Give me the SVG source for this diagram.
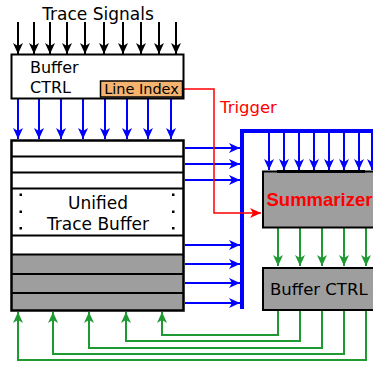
<svg xmlns="http://www.w3.org/2000/svg" width="373" height="365" viewBox="0 0 373 365">
<style>
text{font-family:"DejaVu Sans","Liberation Sans",sans-serif}
.blk{stroke:#000;stroke-width:2;fill:none}
.blu{stroke:#0000ff;stroke-width:2;fill:none}
.grn{stroke:#1f9a33;stroke-width:2;fill:none}
.red{stroke:#ff0000;stroke-width:1.5;fill:none}
.box{stroke:#000;stroke-width:2}
</style>
<defs>
<marker id="ak" markerUnits="userSpaceOnUse" markerWidth="14" markerHeight="14" viewBox="-12 -6 14 12" refX="0" refY="0" orient="auto"><path d="M0,0 L-11,-5 L-8,0 L-11,5 Z" fill="#000"/></marker>
<marker id="ab" markerUnits="userSpaceOnUse" markerWidth="14" markerHeight="14" viewBox="-12 -6 14 12" refX="0" refY="0" orient="auto"><path d="M0,0 L-11,-5 L-8,0 L-11,5 Z" fill="#0000ff"/></marker>
<marker id="ag" markerUnits="userSpaceOnUse" markerWidth="14" markerHeight="14" viewBox="-12 -6 14 12" refX="0" refY="0" orient="auto"><path d="M0,0 L-11,-5 L-8,0 L-11,5 Z" fill="#1f9a33"/></marker>
<marker id="ar" markerUnits="userSpaceOnUse" markerWidth="14" markerHeight="14" viewBox="-12 -6 14 12" refX="0" refY="0" orient="auto"><path d="M0,0 L-11,-5 L-8,0 L-11,5 Z" fill="#ff0000"/></marker>
</defs>
<rect width="373" height="365" fill="#fff"/>
<text x="98" y="20" font-size="17" text-anchor="middle">Trace Signals</text>
<g id="connectors">
<g class="blk" marker-end="url(#ak)">
<path d="M18,22V54"/><path d="M34,22V54"/><path d="M50,22V54"/><path d="M67,22V54"/><path d="M85,22V54"/><path d="M104,22V54"/><path d="M123,22V54"/><path d="M141,22V54"/><path d="M159,22V54"/><path d="M176,22V54"/>
</g>
<g class="blu" marker-end="url(#ab)">
<path d="M18,99V139"/><path d="M39,99V139"/><path d="M61,99V139"/><path d="M83,99V139"/><path d="M105,99V139"/><path d="M127,99V139"/><path d="M148,99V139"/><path d="M171,99V139"/>
<path d="M185,148H240"/><path d="M185,164H240"/><path d="M185,180H240"/>
<path d="M185,245H240"/><path d="M185,264H240"/><path d="M185,283H240"/><path d="M185,303H240"/>
<path d="M269,133V170"/><path d="M284,133V170"/><path d="M299,133V170"/><path d="M314,133V170"/><path d="M329,133V170"/><path d="M344,133V170"/><path d="M359,133V170"/><path d="M372,133V170"/>
</g>
<path d="M242,309V131H373" fill="none" stroke="#0000ff" stroke-width="4"/>
<path class="red" d="M183,89H214V213H261" marker-end="url(#ar)"/>
<text x="220" y="113" font-size="16.5" fill="#ff0000">Trigger</text>
<g class="grn" marker-end="url(#ag)">
<path d="M278,228V266"/><path d="M300,228V266"/><path d="M322,228V266"/><path d="M344,228V266"/><path d="M366,228V266"/>
<path d="M278,311V335H162V312"/>
<path d="M300,311V341H126V312"/>
<path d="M322,311V348H89V312"/>
<path d="M344,311V354H53V312"/>
<path d="M366,311V360H18V312"/>
</g>
</g>
<g id="buffer-ctrl-top">
<rect x="11.5" y="54.5" width="172" height="44" fill="#fff" class="box"/>
<text x="30" y="73" font-size="16">Buffer</text>
<text x="30" y="93" font-size="16">CTRL</text>
</g>
<g id="line-index">
<rect x="100.5" y="81" width="82" height="16" fill="#f5b370" stroke="#000" stroke-width="1.5"/>
<text x="141.5" y="94" font-size="14.5" text-anchor="middle">Line Index</text>
</g>
<g id="unified-trace-buffer">
<rect x="11.5" y="140.5" width="172" height="170" fill="#fff"/>
<rect x="11.5" y="254.5" width="172" height="56" fill="#9e9e9e"/>
<g class="blk">
<path d="M11,156.5H184M11,172.5H184M11,188.5H184M11,235.5H184M11,254.5H184M11,274H184M11,293H184"/>
</g>
<rect x="11.5" y="140.5" width="172" height="170" fill="none" stroke="#000" stroke-width="2.5"/>
<g fill="#000">
<rect x="19.5" y="193.5" width="2.5" height="2.5"/><rect x="19.5" y="210.5" width="2.5" height="2.5"/><rect x="19.5" y="227" width="2.5" height="2.5"/>
<rect x="172" y="193.5" width="2.5" height="2.5"/><rect x="172" y="210.5" width="2.5" height="2.5"/><rect x="172" y="227" width="2.5" height="2.5"/>
</g>
<text x="98" y="209" font-size="17" text-anchor="middle">Unified</text>
<text x="98" y="230" font-size="17" text-anchor="middle">Trace Buffer</text>
</g>
<g id="summarizer">
<rect x="263" y="171.5" width="115" height="56" fill="#9e9e9e" class="box"/>
<path d="M277,171.5H365" stroke="#000" stroke-width="3"/>
<text x="266.5" y="206" font-size="18.5" font-weight="bold" fill="#ff0000" style="font-family:'Liberation Sans',Arial,sans-serif">Summarizer</text>
</g>
<g id="buffer-ctrl-right">
<rect x="263" y="268" width="115" height="42" fill="#9e9e9e" class="box"/>
<text x="270" y="295" font-size="16.5">Buffer CTRL</text>
</g>
</svg>
